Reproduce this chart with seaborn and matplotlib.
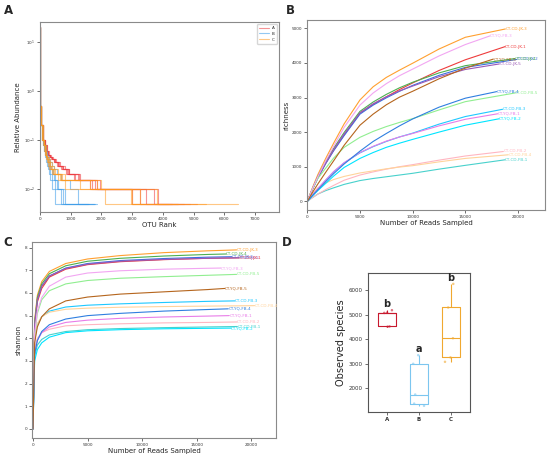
import numpy as np
import pandas as pd
import seaborn as sns
from matplotlib import pyplot as plt

# ---- A: rank abundance (relative abundance %, step curves) ----
levels = [20, 2, 0.5, 0.2, 0.1, 0.08, 0.06, 0.05, 0.045, 0.04, 0.035, 0.03,
          0.025, 0.02, 0.015, 0.01, 0.005]
# rank where each level starts, last number = last OTU rank
ranks_A = [[0, 4, 14, 40, 95, 140, 190, 240, 290, 360, 450, 560, 680, 850, 1120, 1620, 2980, 4300],
           [0, 4, 15, 42, 100, 150, 200, 250, 310, 380, 470, 590, 720, 880, 1150, 1700, 3250, 4500],
           [0, 5, 16, 45, 105, 160, 215, 270, 330, 400, 500, 620, 760, 930, 1230, 1780, 3450, 4700],
           [0, 4, 15, 43, 100, 150, 205, 260, 320, 390, 490, 600, 740, 910, 1260, 1870, 3720, 4900],
           [0, 5, 16, 46, 110, 165, 220, 280, 345, 420, 520, 650, 800, 960, 1300, 1950, 3850, 5100]]
ranks_B = [[0, 3, 10, 30, 70, 100, 130, 155, 170, 190, 210, 235, 260, 290, 330, 400, 480, 1570],
           [0, 3, 11, 32, 75, 110, 145, 170, 190, 215, 240, 270, 300, 340, 400, 480, 700, 1840],
           [0, 3, 12, 35, 80, 120, 160, 190, 215, 245, 280, 320, 370, 420, 500, 600, 800, 1800],
           [0, 4, 13, 38, 90, 135, 180, 220, 250, 290, 340, 400, 470, 560, 680, 980, 1240, 1750],
           [0, 3, 11, 33, 78, 115, 150, 180, 205, 230, 260, 300, 340, 390, 450, 560, 760, 1600]]
ranks_C = [[0, 3, 11, 33, 78, 115, 150, 175, 195, 220, 250, 290, 340, 420, 640, 1620, 2950, 6450],
           [0, 4, 12, 36, 85, 125, 165, 195, 220, 250, 290, 340, 400, 480, 720, 1850, 3000, 5400],
           [0, 3, 10, 30, 72, 105, 140, 165, 185, 205, 230, 260, 300, 380, 600, 800, 2110, 3300],
           [0, 4, 13, 38, 90, 135, 180, 210, 240, 280, 330, 390, 460, 590, 800, 2000, 3270, 4200],
           [0, 3, 12, 34, 80, 120, 160, 185, 210, 240, 275, 320, 370, 450, 680, 1300, 3800, 4500]]
group_colors = {"A": "#ee3a3f", "B": "#3a9be8", "C": "#ff9a1f"}

# ---- B / C: rarefaction curves ----
samples = ["CT-CD-JK-1", "CT-CD-JK-2", "CT-CD-JK-3", "CT-CD-JK-4", "CT-CD-JK-5",
           "CT-CD-FB-1", "CT-CD-FB-2", "CT-CD-FB-3", "CT-CD-FB-4", "CT-CD-FB-5",
           "CT-YQ-FB-1", "CT-YQ-FB-2", "CT-YQ-FB-3", "CT-YQ-FB-4", "CT-YQ-FB-5"]
sample_colors = ["#ee3b3b", "#3b6fe0", "#ffa030", "#4caf50", "#9b59b6",
                 "#48d1cc", "#ffb6c1", "#1ec8ff", "#ffd39b", "#90ee90",
                 "#e87ce8", "#00e5ff", "#f2a6f2", "#2f7fe0", "#b5651d"]

rich_x = [0, 500, 1000, 1750, 2500, 3500, 5000, 6250, 7500, 8750, 10000, 12500, 15000]
rich_y = [[0, 360, 690, 1110, 1480, 1920, 2550, 2800, 3020, 3230, 3420, 3780, 4090],
          [0, 350, 670, 1090, 1460, 1900, 2520, 2780, 2990, 3180, 3350, 3640, 3870],
          [0, 400, 770, 1240, 1680, 2240, 2930, 3310, 3580, 3790, 3990, 4400, 4740],
          [0, 370, 710, 1150, 1530, 1990, 2600, 2870, 3090, 3280, 3440, 3710, 3920],
          [0, 360, 690, 1110, 1490, 1950, 2560, 2820, 3020, 3190, 3330, 3600, 3810],
          [0, 110, 210, 310, 390, 490, 600, 660, 710, 760, 810, 930, 1040],
          [0, 110, 210, 340, 460, 610, 760, 850, 930, 1000, 1060, 1190, 1310],
          [0, 190, 360, 610, 850, 1110, 1400, 1580, 1730, 1860, 1970, 2230, 2450],
          [0, 210, 390, 530, 630, 720, 820, 880, 940, 990, 1030, 1140, 1240],
          [0, 360, 660, 960, 1250, 1560, 1850, 2020, 2160, 2280, 2390, 2640, 2880],
          [0, 190, 370, 620, 860, 1120, 1410, 1590, 1740, 1860, 1960, 2180, 2370],
          [0, 160, 310, 520, 730, 980, 1240, 1410, 1560, 1680, 1790, 2000, 2200],
          [0, 370, 710, 1170, 1590, 2140, 2780, 3130, 3400, 3630, 3820, 4200, 4530],
          [0, 170, 330, 570, 800, 1080, 1450, 1730, 1960, 2180, 2380, 2720, 2980],
          [0, 260, 500, 840, 1170, 1620, 2200, 2520, 2790, 3010, 3180, 3540, 3850]]
rich_end_x = [18770, 19870, 18800, 19700, 18230, 18770, 18610, 18540, 19080, 19700,
              18070, 18200, 17340, 17975, 17660]
rich_end_y = [4470, 4100, 4980, 4125, 3970, 1200, 1440, 2660, 1345, 3130,
              2530, 2385, 4780, 3170, 4110]

shan_x = [0, 150, 400, 800, 1500, 3000, 5000, 8000, 12000, 16000]
shan_y = [[0, 4.5, 5.6, 6.2, 6.7, 7.05, 7.25, 7.38, 7.47, 7.53],
          [0, 4.6, 5.7, 6.3, 6.75, 7.1, 7.3, 7.43, 7.52, 7.58],
          [0, 4.8, 5.9, 6.5, 6.95, 7.3, 7.5, 7.65, 7.78, 7.86],
          [0, 4.7, 5.8, 6.4, 6.85, 7.2, 7.4, 7.53, 7.63, 7.7],
          [0, 4.6, 5.7, 6.3, 6.75, 7.08, 7.27, 7.4, 7.48, 7.53],
          [0, 3.2, 3.7, 3.95, 4.15, 4.3, 4.38, 4.43, 4.47, 4.5],
          [0, 3.6, 4.0, 4.25, 4.4, 4.55, 4.6, 4.64, 4.68, 4.7],
          [0, 3.9, 4.6, 4.95, 5.2, 5.38, 5.46, 5.52, 5.58, 5.63],
          [0, 4.0, 4.65, 4.95, 5.15, 5.28, 5.33, 5.37, 5.4, 5.42],
          [0, 4.1, 5.1, 5.7, 6.1, 6.4, 6.55, 6.65, 6.72, 6.78],
          [0, 3.4, 3.9, 4.25, 4.5, 4.7, 4.8, 4.88, 4.94, 4.98],
          [0, 3.0, 3.5, 3.8, 4.05, 4.25, 4.33, 4.38, 4.42, 4.44],
          [0, 4.2, 5.2, 5.8, 6.3, 6.7, 6.88, 6.98, 7.05, 7.09],
          [0, 3.3, 3.9, 4.3, 4.6, 4.85, 5.0, 5.1, 5.2, 5.27],
          [0, 3.8, 4.5, 4.95, 5.3, 5.65, 5.82, 5.95, 6.05, 6.15]]
shan_end_x = [18900, 18200, 18650, 17700, 18800, 18720, 18700, 18500, 20300, 18650,
              17980, 18160, 17220, 17890, 17580]
shan_end_y = [7.55, 7.6, 7.9, 7.72, 7.55, 4.52, 4.72, 5.65, 5.44, 6.82,
              5.0, 4.45, 7.1, 5.3, 6.2]

# ---- D: observed species ----
obs_A = [4510, 4520, 5070, 5080, 5180]
obs_B = [1290, 1380, 1750, 3000, 3350]
obs_C = [3080, 3260, 4040, 5290, 6250]
obs_letters = ["b", "a", "b"]
box_colors = {"A": "#c8192e", "B": "#7cc6ef", "C": "#f0a830"}

sns.set_style("ticks")
plt.rcParams["font.family"] = ["DejaVu Sans"]

fig = plt.figure(figsize=(5.5, 4.57), dpi=100)
axA = fig.add_axes([0.0727, 0.536, 0.4345, 0.4158])
axB = fig.add_axes([0.5587, 0.5405, 0.4322, 0.4158])
axC = fig.add_axes([0.0582, 0.0416, 0.4436, 0.4289])
axD = fig.add_axes([0.6685, 0.0991, 0.1865, 0.3028])

def style_frame(ax, color="#8a8a8a"):
    for s in ax.spines.values():
        s.set_color(color)
        s.set_linewidth(0.8)
    ax.tick_params(labelsize=3, length=2, width=0.5, pad=1.5, colors="#333333")

# A
rows = []
for g, rr in zip(["A", "B", "C"], [ranks_A, ranks_B, ranks_C]):
    for i, r in enumerate(rr):
        ys = levels + [levels[-1]]
        for xv, yv in zip(r, ys):
            rows.append((g, f"{g}{i}", xv, yv))
dfA = pd.DataFrame(rows, columns=["group", "sample", "rank", "abund"])
sns.lineplot(data=dfA, x="rank", y="abund", hue="group", units="sample",
             estimator=None, sort=False, palette=group_colors, drawstyle="steps-post",
             lw=0.8, alpha=0.55, ax=axA)
axA.set_yscale("log")
axA.set_xlim(0, 7780)
axA.set_ylim(0.0034, 25)
axA.set_xticks(range(0, 7001, 1000))
axA.set_yticks([10, 1, 0.1, 0.01])
axA.minorticks_off()
axA.set_xlabel("OTU Rank", fontsize=5, labelpad=1)
axA.set_ylabel("Relative Abundance", fontsize=5, labelpad=2)
axA.legend(loc="upper right", fontsize=3, frameon=True, handlelength=2.2,
           borderpad=0.5, labelspacing=0.4)
style_frame(axA)

# B
rows = []
for s, ys, ex, ey in zip(samples, rich_y, rich_end_x, rich_end_y):
    for xv, yv in zip(rich_x + [ex], ys + [ey]):
        rows.append((s, xv, yv))
dfB = pd.DataFrame(rows, columns=["sample", "reads", "richness"])
sns.lineplot(data=dfB, x="reads", y="richness", hue="sample", estimator=None, sort=False,
             palette=dict(zip(samples, sample_colors)), lw=0.8, legend=False, ax=axB)
for s, c, ex, ey in zip(samples, sample_colors, rich_end_x, rich_end_y):
    axB.text(ex, ey, s, color=c, fontsize=3, ha="left", va="center")
axB.set_xlim(0, 22560)
axB.set_ylim(-250, 5240)
axB.set_xticks(range(0, 20001, 5000))
axB.set_yticks(range(0, 5001, 1000))
axB.set_xlabel("Number of Reads Sampled", fontsize=5, labelpad=1)
axB.set_ylabel("richness", fontsize=5, labelpad=2)
style_frame(axB)

# C
rows = []
for s, ys, ex, ey in zip(samples, shan_y, shan_end_x, shan_end_y):
    for xv, yv in zip(shan_x + [ex], ys + [ey]):
        rows.append((s, xv, yv))
dfC = pd.DataFrame(rows, columns=["sample", "reads", "shannon"])
sns.lineplot(data=dfC, x="reads", y="shannon", hue="sample", estimator=None, sort=False,
             palette=dict(zip(samples, sample_colors)), lw=0.8, legend=False, ax=axC)
for s, c, ex, ey in zip(samples, sample_colors, shan_end_x, shan_end_y):
    axC.text(ex, ey, s, color=c, fontsize=3, ha="left", va="center")
axC.set_xlim(-90, 22260)
axC.set_ylim(-0.4, 8.25)
axC.set_xticks(range(0, 20001, 5000))
axC.set_yticks(range(0, 9))
axC.set_xlabel("Number of Reads Sampled", fontsize=5, labelpad=1)
axC.set_ylabel("shannon", fontsize=5, labelpad=2)
style_frame(axC)

# D
dfD = pd.DataFrame({"group": ["A"] * 5 + ["B"] * 5 + ["C"] * 5,
                    "obs": obs_A + obs_B + obs_C})
sns.boxplot(data=dfD, x="group", y="obs", hue="group", palette=box_colors, fill=False,
            width=0.55, showcaps=False, showfliers=False, linewidth=0.8,
            legend=False, ax=axD)
np.random.seed(3)
sns.stripplot(data=dfD, x="group", y="obs", hue="group", palette=box_colors, size=1.8,
              jitter=0.2, alpha=0.6, legend=False, ax=axD)
for i, (vals, lt) in enumerate(zip([obs_A, obs_B, obs_C], obs_letters)):
    axD.text(i, max(vals) + 40, lt, fontsize=7, fontweight="bold", ha="center", va="bottom")
axD.set_xlim(-0.6, 2.6)
axD.set_ylim(1050, 6680)
axD.set_yticks([2000, 3000, 4000, 5000, 6000])
axD.set_xlabel("")
axD.set_ylabel("Observed species", fontsize=7, labelpad=2)
style_frame(axD, "#555555")
axD.tick_params(labelsize=4)
for lab in axD.get_xticklabels():
    lab.set_fontweight("bold")

for t, (px, py) in zip("ABCD", [(8, 11), (290, 10), (8, 243), (287, 242)]):
    fig.text(px / 550, 1 - py / 457, t, fontsize=8.5, fontweight="bold",
             ha="center", va="center")

fig.savefig("out.png", dpi=100)
